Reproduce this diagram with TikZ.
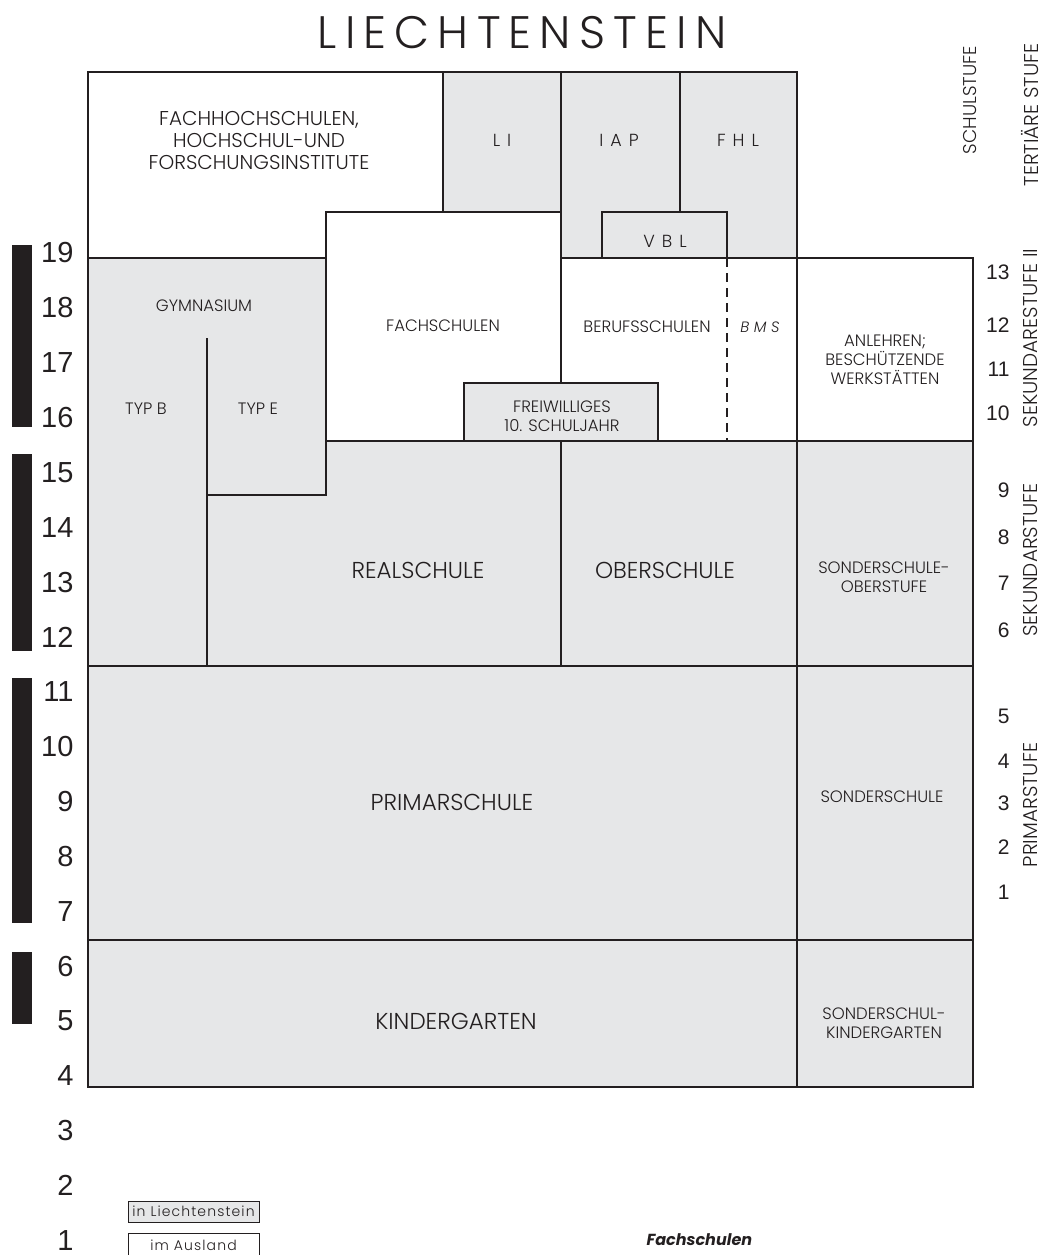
\documentclass[tikz,border=0pt]{standalone}
\usepackage{fontspec}
\setmainfont{Poppins}
\newfontfamily\lightfont{Poppins Light}
\newfontfamily\numfont{Liberation Sans}

\definecolor{lgray}{HTML}{E6E7E8}
\definecolor{ink}{HTML}{231F20}

\tikzset{
  inland/.style={fill=lgray, draw=ink, line width=2.2pt},
  ausland/.style={fill=white, draw=ink, line width=2.2pt},
  lbl/.style={font=\lightfont\fontsize{16.5}{19}\selectfont, align=center, text=ink},
  biglbl/.style={font=\lightfont\fontsize{23}{26}\selectfont, text=ink},
  spaced/.style={font=\lightfont\fontsize{17.5}{20}\selectfont\addfontfeature{LetterSpace=40}, text=ink},
  agenum/.style={font=\numfont\fontsize{29}{30}\selectfont, anchor=east, text=ink},
  gradenum/.style={font=\numfont\fontsize{21}{22}\selectfont, anchor=east, text=ink},
  stufe/.style={rotate=90, font=\lightfont\fontsize{20}{22}\selectfont, text=ink},
  legbox/.style={draw=ink, line width=0.8pt, minimum width=131pt, minimum height=21pt, inner sep=0pt,
    font=\lightfont\fontsize{14}{15}\selectfont\addfontfeature{LetterSpace=8}, text=ink},
}

\begin{document}
\begin{tikzpicture}[x=1pt,y=-1pt,line join=miter]
    \useasboundingbox (0,0) rectangle (1045,1255);

    % title
    \node[font=\lightfont\fontsize{45.5}{48}\selectfont\addfontfeature{LetterSpace=18}, text=ink] (title) at (522,33) {LIECHTENSTEIN};

    % tertiary level
    \draw[ausland] (88,72) -- (443,72) -- (443,212) -- (326,212) -- (326,258) -- (88,258) -- cycle;
    \draw[inland] (443,72) rectangle (561,212);
    \draw[inland] (561,72) rectangle (797,258);
    \draw[line width=2.2pt, ink] (680,72) -- (680,212);
    \draw[inland] (602,212) rectangle (727,258);

    % secondary II
    \draw[ausland] (326,212) rectangle (561,441);
    \draw[ausland] (561,258) rectangle (797,441);
    \draw[line width=2.2pt, ink, dash pattern=on 9pt off 6pt] (727,258) -- (727,441);
    \draw[inland] (464,383) rectangle (658,441);
    \draw[ausland] (797,258) rectangle (973,441);

    % gymnasium and secondary I
    \draw[inland] (88,258) -- (326,258) -- (326,495) -- (207,495) -- (207,666) -- (88,666) -- cycle;
    \draw[line width=2.2pt, ink] (207,338) -- (207,495);
    \draw[inland] (207,495) -- (326,495) -- (326,441) -- (561,441) -- (561,666) -- (207,666) -- cycle;
    \draw[inland] (561,441) rectangle (797,666);
    \draw[inland] (797,441) rectangle (973,666);

    % primary and kindergarten
    \draw[inland] (88,666) rectangle (797,940);
    \draw[inland] (797,666) rectangle (973,940);
    \draw[inland] (88,940) rectangle (797,1087);
    \draw[inland] (797,940) rectangle (973,1087);

    % labels
    \node[lbl, font=\lightfont\fontsize{20}{22}\selectfont] (fhs) at (259,140) {FACHHOCHSCHULEN,\\HOCHSCHUL-UND\\FORSCHUNGSINSTITUTE};
    \node[spaced] (li) at (502,140) {LI};
    \node[spaced] (iap) at (619,140) {IAP};
    \node[spaced] (fhl) at (738,140) {FHL};
    \node[spaced] (vbl) at (665,241) {VBL};
    \node[lbl] (gym) at (204,306) {GYMNASIUM};
    \node[lbl] (typb) at (146,409) {TYP B};
    \node[lbl] (type) at (258,409) {TYP E};
    \node[lbl] (fs) at (443,326) {FACHSCHULEN};
    \node[lbl] (bs) at (647,327) {BERUFSSCHULEN};
    \node[spaced, font=\lightfont\fontsize{15}{18}\selectfont\itshape\addfontfeature{LetterSpace=30}] (bms) at (760,327) {BMS};
    \node[lbl] (frw) at (562,416) {FREIWILLIGES\\10. SCHULJAHR};
    \node[lbl] (anl) at (885,360) {ANLEHREN;\\BESCHÜTZENDE\\WERKSTÄTTEN};
    \node[biglbl] (real) at (418,570) {REALSCHULE};
    \node[biglbl] (ober) at (665,570) {OBERSCHULE};
    \node[lbl] (sob) at (884,577) {SONDERSCHULE-\\OBERSTUFE};
    \node[biglbl] (prim) at (452,802) {PRIMARSCHULE};
    \node[lbl] (sond) at (882,797) {SONDERSCHULE};
    \node[biglbl] (kg) at (456,1021) {KINDERGARTEN};
    \node[lbl] (skg) at (884,1023) {SONDERSCHUL-\\KINDERGARTEN};

    % age scale
    \fill[ink] (12,245) rectangle (32,427);
    \fill[ink] (12,454) rectangle (32,651);
    \fill[ink] (12,678) rectangle (32,923);
    \fill[ink] (12,952) rectangle (32,1024);
    \foreach \a in {1,...,19}
        \node[agenum] (age\a) at (77,{253+(19-\a)*54.85}) {\a};

    % school years
    \foreach \n/\y in {13/272,12/325,11/369,10/413,9/490,8/537,7/583,6/630,5/716,4/761,3/803,2/847,1/892}
        \node[gradenum] (grade\n) at (1013,\y) {\n};

    \node[stufe, font=\lightfont\fontsize{18.5}{20}\selectfont] (schulstufe) at (970,100) {SCHULSTUFE};
    \node[stufe] (tert) at (1030,115) {TERTIÄRE STUFE};
    \node[stufe] (sek2) at (1030,338) {SEKUNDARESTUFE II};
    \node[stufe] (sek1) at (1030,560) {SEKUNDARSTUFE};
    \node[stufe] (prims) at (1030,805) {PRIMARSTUFE};

    % legend
    \node[legbox, fill=lgray] (legin) at (193.5,1211.5) {in Liechtenstein};
    \node[legbox, fill=white, minimum height=28pt] (legaus) at (193.5,1247) {\raisebox{3pt}{im Ausland}};
    \node[font=\fontsize{16}{18}\selectfont\bfseries\itshape, text=ink, anchor=west] (fsleg) at (643,1240) {Fachschulen};
\end{tikzpicture}
\end{document}
